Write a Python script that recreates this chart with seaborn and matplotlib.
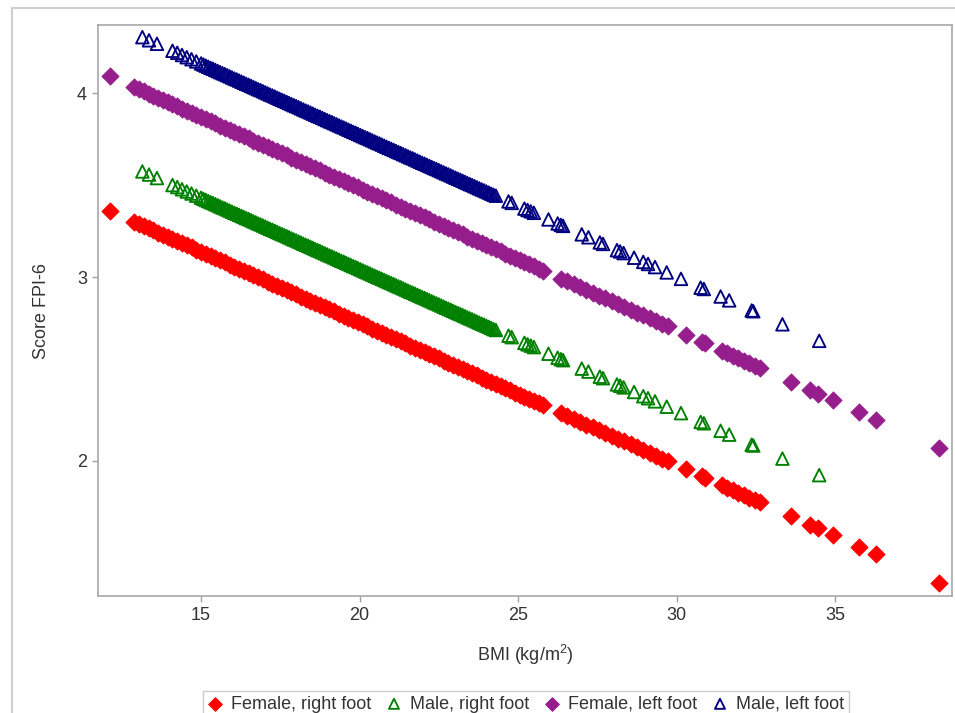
import pandas as pd
import matplotlib
matplotlib.use('Agg')
import matplotlib.pyplot as plt
import matplotlib.patches as mpatches
import seaborn as sns

# BMI of female participants (same subjects for right and left foot)
bmi_female = [
    12.13,
    12.90, 13.05, 13.20, 13.35, 13.50, 13.65, 13.80, 13.95, 14.10, 14.25,
    14.40, 14.55, 14.70, 14.85, 15.00, 15.15, 15.30, 15.45, 15.60, 15.75,
    15.90, 16.05, 16.20, 16.35, 16.50, 16.65, 16.80, 16.95, 17.10, 17.25,
    17.40, 17.55, 17.70, 17.85, 18.00, 18.15, 18.30, 18.45, 18.60, 18.75,
    18.90, 19.05, 19.20, 19.35, 19.50, 19.65, 19.80, 19.95, 20.10, 20.25,
    20.40, 20.55, 20.70, 20.85, 21.00, 21.15, 21.30, 21.45, 21.60, 21.75,
    21.90, 22.05, 22.20, 22.35, 22.50, 22.65, 22.80, 22.95, 23.10, 23.25,
    23.40, 23.55, 23.70, 23.85, 24.00, 24.15, 24.30, 24.45, 24.60, 24.75,
    24.90, 25.05, 25.20, 25.35, 25.50, 25.65, 25.80,
    26.35, 26.55, 26.75, 26.95, 27.15, 27.35, 27.55, 27.75, 27.95, 28.15,
    28.35, 28.55, 28.75, 28.95, 29.15, 29.35, 29.55, 29.72, 30.30, 30.80,
    30.90, 31.43, 31.60, 31.78, 31.95, 32.12, 32.30, 32.47, 32.63, 33.60,
    34.21, 34.47, 34.93, 35.74, 36.29, 38.29,
]
fpi_female_right = [
    3.359,
    3.300, 3.288, 3.277, 3.265, 3.253, 3.242, 3.230, 3.219, 3.207, 3.196,
    3.184, 3.172, 3.161, 3.149, 3.138, 3.126, 3.114, 3.103, 3.091, 3.080,
    3.068, 3.056, 3.045, 3.033, 3.022, 3.010, 2.998, 2.987, 2.975, 2.964,
    2.952, 2.940, 2.929, 2.917, 2.906, 2.894, 2.882, 2.871, 2.859, 2.848,
    2.836, 2.824, 2.813, 2.801, 2.790, 2.778, 2.766, 2.755, 2.743, 2.732,
    2.720, 2.708, 2.697, 2.685, 2.674, 2.662, 2.651, 2.639, 2.627, 2.616,
    2.604, 2.593, 2.581, 2.569, 2.558, 2.546, 2.535, 2.523, 2.511, 2.500,
    2.488, 2.477, 2.465, 2.453, 2.442, 2.430, 2.419, 2.407, 2.395, 2.384,
    2.372, 2.361, 2.349, 2.337, 2.326, 2.314, 2.303,
    2.260, 2.245, 2.229, 2.214, 2.198, 2.183, 2.167, 2.152, 2.137, 2.121,
    2.106, 2.090, 2.075, 2.059, 2.044, 2.028, 2.013, 2.000, 1.955, 1.916,
    1.908, 1.868, 1.854, 1.840, 1.827, 1.814, 1.800, 1.787, 1.775, 1.700,
    1.653, 1.633, 1.597, 1.534, 1.492, 1.337,
]
fpi_female_left = [
    4.091,
    4.032, 4.020, 4.009, 3.997, 3.985, 3.974, 3.962, 3.951, 3.939, 3.928,
    3.916, 3.904, 3.893, 3.881, 3.870, 3.858, 3.846, 3.835, 3.823, 3.812,
    3.800, 3.788, 3.777, 3.765, 3.754, 3.742, 3.730, 3.719, 3.707, 3.696,
    3.684, 3.672, 3.661, 3.649, 3.638, 3.626, 3.614, 3.603, 3.591, 3.580,
    3.568, 3.556, 3.545, 3.533, 3.522, 3.510, 3.498, 3.487, 3.475, 3.464,
    3.452, 3.440, 3.429, 3.417, 3.406, 3.394, 3.383, 3.371, 3.359, 3.348,
    3.336, 3.325, 3.313, 3.301, 3.290, 3.278, 3.267, 3.255, 3.243, 3.232,
    3.220, 3.209, 3.197, 3.185, 3.174, 3.162, 3.151, 3.139, 3.127, 3.116,
    3.104, 3.093, 3.081, 3.069, 3.058, 3.046, 3.035,
    2.992, 2.977, 2.961, 2.946, 2.930, 2.915, 2.899, 2.884, 2.869, 2.853,
    2.838, 2.822, 2.807, 2.791, 2.776, 2.760, 2.745, 2.732, 2.687, 2.648,
    2.640, 2.600, 2.586, 2.572, 2.559, 2.546, 2.532, 2.519, 2.507, 2.432,
    2.385, 2.365, 2.329, 2.266, 2.224, 2.069,
]

# BMI of male participants
bmi_male = [
    13.15, 13.36, 13.61,
    14.10, 14.25, 14.40, 14.55, 14.70, 14.85, 15.00, 15.15, 15.30, 15.45,
    15.60, 15.75, 15.90, 16.05, 16.20, 16.35, 16.50, 16.65, 16.80, 16.95,
    17.10, 17.25, 17.40, 17.55, 17.70, 17.85, 18.00, 18.15, 18.30, 18.45,
    18.60, 18.75, 18.90, 19.05, 19.20, 19.35, 19.50, 19.65, 19.80, 19.95,
    20.10, 20.25, 20.40, 20.55, 20.70, 20.85, 21.00, 21.15, 21.30, 21.45,
    21.60, 21.75, 21.90, 22.05, 22.20, 22.35, 22.50, 22.65, 22.80, 22.95,
    23.10, 23.25, 23.40, 23.55, 23.70, 23.85, 24.00, 24.15, 24.30,
    15.075, 15.225, 15.375, 15.525, 15.675, 15.825, 15.975, 16.125, 16.275,
    16.425, 16.575, 16.725, 16.875, 17.025, 17.175, 17.325, 17.475, 17.625,
    17.775, 17.925, 18.075, 18.225, 18.375, 18.525, 18.675, 18.825, 18.975,
    19.125, 19.275, 19.425, 19.575, 19.725, 19.875, 20.025, 20.175, 20.325,
    20.475, 20.625, 20.775, 20.925, 21.075, 21.225, 21.375, 21.525, 21.675,
    21.825, 21.975, 22.125, 22.275, 22.425, 22.575, 22.725, 22.875, 23.025,
    23.175, 23.325, 23.475, 23.625, 23.775, 23.925, 24.075, 24.225,
    24.70, 24.80, 25.20, 25.30, 25.40, 25.50, 25.96, 26.25, 26.35, 26.42,
    27.01, 27.22, 27.58, 27.68, 28.12, 28.22, 28.33, 28.66, 28.95, 29.10,
    29.32, 29.69, 30.14, 30.76, 30.86, 31.39, 31.66, 32.37, 32.42, 33.34,
    34.50,
]
fpi_male_right = [
    3.574, 3.557, 3.538,
    3.500, 3.489, 3.477, 3.465, 3.454, 3.442, 3.431, 3.419, 3.407, 3.396,
    3.384, 3.373, 3.361, 3.349, 3.338, 3.326, 3.315, 3.303, 3.291, 3.280,
    3.268, 3.257, 3.245, 3.233, 3.222, 3.210, 3.199, 3.187, 3.175, 3.164,
    3.152, 3.141, 3.129, 3.117, 3.106, 3.094, 3.083, 3.071, 3.059, 3.048,
    3.036, 3.025, 3.013, 3.001, 2.990, 2.978, 2.967, 2.955, 2.944, 2.932,
    2.920, 2.909, 2.897, 2.886, 2.874, 2.862, 2.851, 2.839, 2.828, 2.816,
    2.804, 2.793, 2.781, 2.770, 2.758, 2.746, 2.735, 2.723, 2.712,
    3.425, 3.413, 3.402, 3.390, 3.378, 3.367, 3.355, 3.344, 3.332,
    3.320, 3.309, 3.297, 3.286, 3.274, 3.262, 3.251, 3.239, 3.228,
    3.216, 3.204, 3.193, 3.181, 3.170, 3.158, 3.146, 3.135, 3.123,
    3.112, 3.100, 3.088, 3.077, 3.065, 3.054, 3.042, 3.030, 3.019,
    3.007, 2.996, 2.984, 2.972, 2.961, 2.949, 2.938, 2.926, 2.915,
    2.903, 2.891, 2.880, 2.868, 2.857, 2.845, 2.833, 2.822, 2.810,
    2.799, 2.787, 2.775, 2.764, 2.752, 2.741, 2.729, 2.717,
    2.681, 2.673, 2.642, 2.634, 2.627, 2.619, 2.583, 2.561, 2.553, 2.548,
    2.502, 2.486, 2.458, 2.450, 2.416, 2.409, 2.400, 2.375, 2.352, 2.341,
    2.324, 2.295, 2.260, 2.212, 2.205, 2.164, 2.143, 2.088, 2.084, 2.013,
    1.923,
]
fpi_male_left = [
    4.304, 4.287, 4.268,
    4.230, 4.219, 4.207, 4.195, 4.184, 4.172, 4.161, 4.149, 4.137, 4.126,
    4.114, 4.103, 4.091, 4.079, 4.068, 4.056, 4.045, 4.033, 4.021, 4.010,
    3.998, 3.987, 3.975, 3.963, 3.952, 3.940, 3.929, 3.917, 3.905, 3.894,
    3.882, 3.871, 3.859, 3.847, 3.836, 3.824, 3.813, 3.801, 3.789, 3.778,
    3.766, 3.755, 3.743, 3.731, 3.720, 3.708, 3.697, 3.685, 3.674, 3.662,
    3.650, 3.639, 3.627, 3.616, 3.604, 3.592, 3.581, 3.569, 3.558, 3.546,
    3.534, 3.523, 3.511, 3.500, 3.488, 3.476, 3.465, 3.453, 3.442,
    4.155, 4.143, 4.132, 4.120, 4.108, 4.097, 4.085, 4.074, 4.062,
    4.050, 4.039, 4.027, 4.016, 4.004, 3.992, 3.981, 3.969, 3.958,
    3.946, 3.934, 3.923, 3.911, 3.900, 3.888, 3.876, 3.865, 3.853,
    3.842, 3.830, 3.818, 3.807, 3.795, 3.784, 3.772, 3.760, 3.749,
    3.737, 3.726, 3.714, 3.702, 3.691, 3.679, 3.668, 3.656, 3.645,
    3.633, 3.621, 3.610, 3.598, 3.587, 3.575, 3.563, 3.552, 3.540,
    3.529, 3.517, 3.505, 3.494, 3.482, 3.471, 3.459, 3.447,
    3.411, 3.403, 3.372, 3.364, 3.357, 3.349, 3.313, 3.291, 3.283, 3.278,
    3.232, 3.216, 3.188, 3.180, 3.146, 3.139, 3.130, 3.105, 3.082, 3.071,
    3.054, 3.025, 2.990, 2.942, 2.935, 2.894, 2.873, 2.818, 2.814, 2.743,
    2.653,
]

x_ticks = [15, 20, 25, 30, 35]
y_ticks = [2, 3, 4]

sns.set_style('white')
plt.rcParams['font.family'] = ['Liberation Sans', 'DejaVu Sans']
plt.rcParams['mathtext.fontset'] = 'custom'
plt.rcParams['mathtext.rm'] = 'Liberation Sans'
plt.rcParams['mathtext.it'] = 'Liberation Sans:italic'

fig = plt.figure(figsize=(9.55, 7.13), dpi=100)
ax = fig.add_axes([0.1026, 0.1641, 0.8943, 0.8008])

df_f = pd.DataFrame({'bmi': bmi_female, 'right': fpi_female_right, 'left': fpi_female_left})
df_m = pd.DataFrame({'bmi': bmi_male, 'right': fpi_male_right, 'left': fpi_male_left})

series = [
    (df_f, 'right', 'Female, right foot', '#FF0000', 'D'),
    (df_m, 'right', 'Male, right foot', '#008000', '^'),
    (df_f, 'left', 'Female, left foot', '#961E8C', 'D'),
    (df_m, 'left', 'Male, left foot', '#000080', '^'),
]
for d, col, lab, c, m in series:
    if m == 'D':
        sns.scatterplot(data=d, x='bmi', y=col, marker='D', s=74, color=c,
                        edgecolor=c, linewidth=0.8, label=lab, legend=False, ax=ax)
    else:
        sns.scatterplot(data=d, x='bmi', y=col, marker='^', s=82, facecolor='none',
                        edgecolor=c, linewidth=1.35, label=lab, legend=False, ax=ax)

ax.set_xlim(11.75, 38.69)
ax.set_ylim(1.266, 4.37)
ax.set_xticks(x_ticks)
ax.set_yticks(y_ticks)
ax.tick_params(axis='both', direction='out', length=4, width=1, color='#a0a0a0',
               labelsize=13, labelcolor='#333333', pad=4,
               bottom=True, left=True)
for sp in ax.spines.values():
    sp.set_color('#a8a8a8')
    sp.set_linewidth(1.2)

ax.set_xlabel(r'BMI (kg/m$^2$)', fontsize=13, color='#333333')
ax.set_ylabel('Score FPI-6', fontsize=13, color='#333333')
ax.xaxis.set_label_coords(0.5, -0.083)
ax.yaxis.set_label_coords(-0.056, 0.5)

handles, labels = ax.get_legend_handles_labels()
leg = fig.legend(handles, labels, loc='upper center', bbox_to_anchor=(526 / 955, 1 - 682 / 713),
                 ncol=4, fontsize=13, frameon=True, fancybox=False, edgecolor='#c0c0c0',
                 borderpad=0.25, handlelength=0.8, handletextpad=0.5, columnspacing=0.85,
                 markerscale=0.8)
leg.get_frame().set_linewidth(1.0)
for t in leg.get_texts():
    t.set_color('#333333')

# outer frame of the graph area
fig.patches.append(mpatches.Rectangle((12 / 955, -0.05), 1.2, 1 - 8 / 713 + 0.05,
                                      transform=fig.transFigure, fill=False,
                                      edgecolor='#cfcfcf', linewidth=1.5))

fig.savefig('out.png', dpi=100)
